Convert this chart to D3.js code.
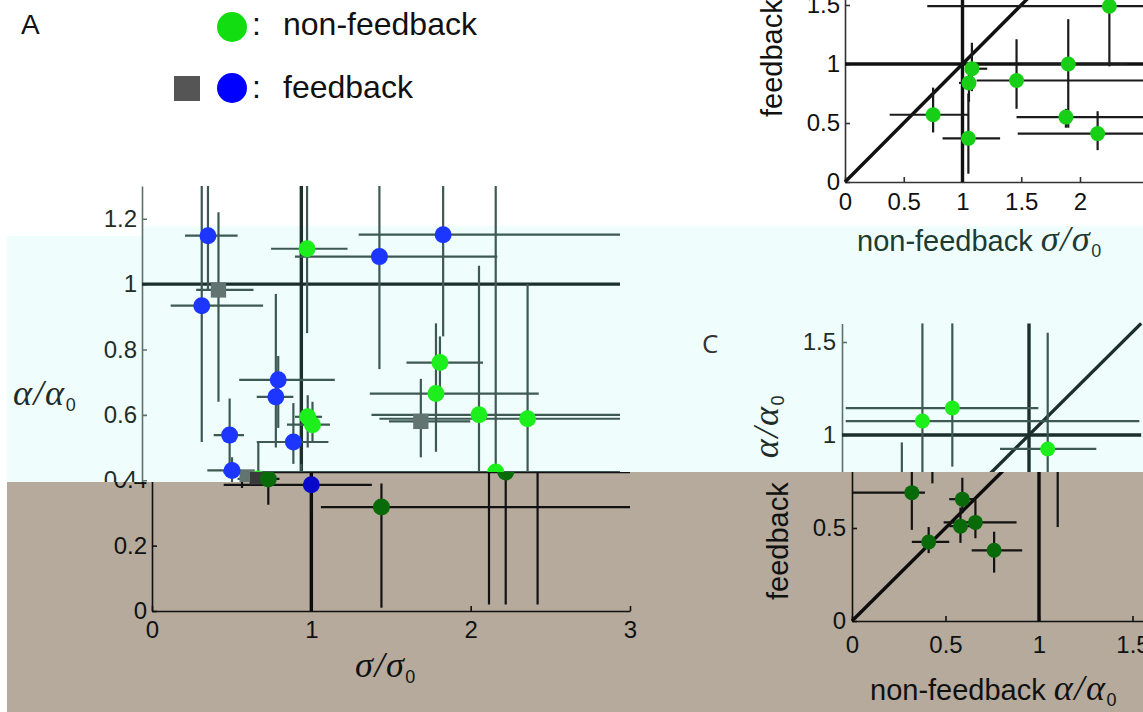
<!DOCTYPE html>
<html>
<head>
<meta charset="utf-8">
<script src="https://cdn.jsdelivr.net/npm/d3@7"></script>
<style>
  body { margin: 0; background: #fff; }
  svg { display: block; }
</style>
</head>
<body>
<div id="chart"></div>
<script>
// rows: [x, y, xLow, xHigh, yLow, yHigh]

// panel A : sigma/sigma0 (x) vs alpha/alpha0 (y)
const aFeedbackCircles = [
  [0.414, 1.148, 0.27, 0.60, 0.98, 1.30],
  [0.375, 0.934, 0.18, 0.76, 0.517, 1.30],
  [1.49, 1.084, 0.96, 2.23, 0.74, 1.30],
  [1.89, 1.151, 1.36, 3.00, 0.84, 1.30],
  [0.855, 0.707, 0.61, 1.21, 0.56, 0.78],
  [0.84, 0.655, 0.72, 0.95, 0.50, 0.97],
  [0.55, 0.538, 0.45, 0.64, 0.44, 0.65],
  [0.95, 0.517, 0.72, 1.17, 0.45, 0.636],
  [0.565, 0.43, 0.41, 0.62, 0.376, 0.47],
  [1.00, 0.386, 0.45, 1.38, 0.30, 0.45]
];
const aFeedbackSquares = [
  [0.48, 0.982, 0.34, 0.70, 0.64, 1.22],
  [1.75, 0.58, 1.55, 2.06, 0.47, 0.71],
  [0.66, 0.41, 0.62, 0.70, 0.40, 0.42]
];
const aNonFeedback = [
  [1.036, 1.108, 0.81, 1.29, 0.85, 1.30],
  [2.115, 0.600, 1.44, 3.00, 0.02, 1.056],
  [2.42, 0.588, 1.49, 3.00, 0.02, 1.00],
  [1.87, 0.760, 1.66, 2.14, 0.667, 0.84],
  [1.845, 0.665, 1.43, 2.49, 0.487, 0.88],
  [2.22, 0.425, 0.51, 3.00, 0.02, 1.30],
  [1.04, 0.594, 0.96, 1.13, 0.50, 0.66],
  [1.07, 0.570, 0.91, 1.18, 0.52, 0.64],
  [0.73, 0.404, 0.60, 0.80, 0.325, 0.517],
  [1.44, 0.318, 1.06, 3.00, 0.01, 0.39]
];
const aXTicks = [0, 1, 2, 3];
const aYTicks = [0, 0.2, 0.4, 0.6, 0.8, 1, 1.2];
const aRefs = [[1, 0, 1, 1.3], [0, 1, 3, 1]];

// panel B : non-feedback vs feedback sigma/sigma0
const bPoints = [
  [0.75, 0.57, 0.38, 1.05, 0.42, 0.80],
  [1.08, 0.96, 1.04, 1.21, 0.77, 1.18],
  [1.055, 0.84, 0.97, 1.10, 0.68, 0.95],
  [1.46, 0.86, 1.12, 2.60, 0.62, 1.21],
  [1.05, 0.37, 0.83, 1.32, 0.07, 0.75],
  [1.90, 1.00, 1.50, 2.40, 0.46, 1.38],
  [1.88, 0.55, 1.46, 2.60, 0.46, 0.62],
  [2.15, 0.41, 1.47, 2.60, 0.27, 0.60],
  [2.25, 1.49, 0.70, 2.60, 0.98, 1.60]
];
const bXTicks = [0, 0.5, 1, 1.5, 2];
const bYTicks = [0, 0.5, 1, 1.5];
const bRefs = [[1, 0, 1, 1.6], [0, 1, 2.6, 1], [0, 0, 1.6, 1.6]];

// panel C : non-feedback vs feedback alpha/alpha0
const cPoints = [
  [0.43, 1.075, 0.02, 1.59, 0.74, 1.60],
  [0.59, 1.145, 0.02, 1.05, 0.83, 1.60],
  [1.10, 0.925, 0.845, 1.36, 0.505, 1.55],
  [0.32, 0.69, 0.00, 0.39, 0.49, 0.96],
  [0.59, 0.655, 0.52, 0.66, 0.58, 0.77],
  [0.58, 0.51, 0.52, 0.64, 0.42, 0.61],
  [0.66, 0.53, 0.49, 0.88, 0.445, 0.65],
  [0.41, 0.425, 0.32, 0.52, 0.365, 0.505],
  [0.76, 0.38, 0.64, 0.91, 0.26, 0.48]
];
const cXTicks = [0, 0.5, 1, 1.5];
const cYTicks = [0, 0.5, 1, 1.5];
const cRefs = [[1, 0, 1, 1.6], [0, 1, 1.6, 1], [0, 0, 1.6, 1.6]];

const SANS = '"Liberation Sans", Arial, sans-serif';
const SERIF = '"Liberation Serif", "DejaVu Serif", serif';
const fmt = d3.format('~g');

const CYAN = {line: '#3d5952', ref: '#1c2f2a', axis: '#5b726c', text: '#1f2d29',
              fb: '#1c35ff', nf: '#1def1d', sq: '#61746f'};
const BROWN = {line: '#121212', ref: '#0c0c0c', axis: '#111', text: '#111',
               fb: '#0808cc', nf: '#086a08', sq: '#3a3a3a'};
const WHITE = {line: '#1b1b1b', ref: '#111', axis: '#333', text: '#111',
               fb: '#1c35ff', nf: '#17cf17', sq: '#555'};

class ErrorPanel {
  constructor (options) {
    Object.assign(this, options);
  }

  draw (parent, style, dx, clipId) {
    const layer = parent.append('g')
      .attr('clip-path', 'url(#' + clipId + ')')
      .append('g')
      .attr('transform', 'translate(' + dx + ',0)');

    this.addAxes(layer, style);
    this.drawRefs(layer, style);
    this.drawBars(layer, style);
    this.drawMarkers(layer, style);
    this.addLabels(layer, style);
  }

  addAxes (g, style) {
    const x = this.x, y = this.y;
    const xAxis = g.append('g')
      .attr('transform', 'translate(0,' + y(0) + ')')
      .call(d3.axisBottom(x).tickValues(this.xTicks).tickFormat(fmt)
        .tickSize(-5).tickSizeOuter(0).tickPadding(this.xPad));
    const yAxis = g.append('g')
      .attr('transform', 'translate(' + x(0) + ',0)')
      .call(d3.axisLeft(y).tickValues(this.yTicks).tickFormat(fmt)
        .tickSize(-5).tickSizeOuter(0).tickPadding(this.yPad));

    [xAxis, yAxis].forEach((a) => {
      a.attr('font-family', SANS).attr('font-size', 24);
      a.selectAll('.domain, .tick line').attr('stroke', style.axis).attr('stroke-width', 1.6);
      a.selectAll('text').attr('fill', style.text);
    });
  }

  drawRefs (g, style) {
    const x = this.x, y = this.y;
    g.selectAll('line.ref')
      .data(this.refs)
      .enter().append('line')
      .attr('class', 'ref')
      .attr('x1', (d) => x(d[0])).attr('y1', (d) => y(d[1]))
      .attr('x2', (d) => x(d[2])).attr('y2', (d) => y(d[3]))
      .attr('stroke', style.ref)
      .attr('stroke-width', 3.4);
  }

  drawBars (g, style) {
    const x = this.x, y = this.y;
    const rows = this.series.reduce((all, s) => all.concat(s.rows), []);
    const bars = g.append('g').attr('stroke', style.line).attr('stroke-width', 2.2);

    bars.selectAll('line.h')
      .data(rows)
      .enter().append('line')
      .attr('x1', (d) => x(d[2])).attr('x2', (d) => x(d[3]))
      .attr('y1', (d) => y(d[1])).attr('y2', (d) => y(d[1]));

    bars.selectAll('line.v')
      .data(rows)
      .enter().append('line')
      .attr('x1', (d) => x(d[0])).attr('x2', (d) => x(d[0]))
      .attr('y1', (d) => y(d[4])).attr('y2', (d) => y(d[5]));
  }

  drawMarkers (g, style) {
    const x = this.x, y = this.y, r = this.r;
    this.series.forEach((s) => {
      if (s.shape === 'square') {
        g.selectAll(null)
          .data(s.rows)
          .enter().append('rect')
          .attr('x', (d) => x(d[0]) - r * 0.9)
          .attr('y', (d) => y(d[1]) - r * 0.9)
          .attr('width', r * 1.8).attr('height', r * 1.8)
          .attr('fill', style[s.kind]);
      } else {
        g.selectAll(null)
          .data(s.rows)
          .enter().append('circle')
          .attr('cx', (d) => x(d[0]))
          .attr('cy', (d) => y(d[1]))
          .attr('r', r)
          .attr('fill', style[s.kind]);
      }
    });
  }

  addLabels (g, style) {
    [this.xLabel, this.yLabel].forEach((lab) => {
      if (!lab) return;
      const t = g.append('text')
        .attr('font-family', SANS)
        .attr('font-size', lab.size)
        .attr('fill', lab.color || style.text)
        .attr('transform', 'translate(' + lab.x + ',' + lab.y + ')' + (lab.rotate ? ' rotate(-90)' : ''));
      richText(t, lab.parts, lab.size);
    });
  }
}

function richText (t, parts, size) {
  parts.forEach(([s, kind]) => {
    const ts = t.append('tspan').text(s);
    if (kind === 'it') {
      ts.attr('font-family', SERIF).attr('font-style', 'italic')
        .attr('font-size', size * 1.25).attr('letter-spacing', 1.5);
    } else if (kind === 'sub') {
      ts.attr('font-size', size * 0.62).attr('dy', size * 0.2);
    }
  });
}

const sigmaParts = [['σ', 'it'], ['/', 'it'], ['σ', 'it'], ['0', 'sub']];
const alphaParts = [['α', 'it'], ['/', 'it'], ['α', 'it'], ['0', 'sub']];

const panelA = new ErrorPanel({
  x: d3.scaleLinear().domain([0, 3]).range([152, 630]),
  y: d3.scaleLinear().domain([0, 1.3]).range([611, 186]),
  xTicks: aXTicks, yTicks: aYTicks, xPad: 10, yPad: 5, r: 8.5,
  refs: aRefs,
  series: [
    {rows: aFeedbackSquares, kind: 'sq', shape: 'square'},
    {rows: aFeedbackCircles, kind: 'fb'},
    {rows: aNonFeedback, kind: 'nf'}
  ],
  xLabel: {x: 355, y: 677, size: 29, parts: sigmaParts},
  yLabel: {x: 23, y: 405, size: 29, parts: alphaParts}
});

const panelB = new ErrorPanel({
  x: d3.scaleLinear().domain([0, 2.55]).range([845, 845 + 2.55 * 117.5]),
  y: d3.scaleLinear().domain([0, 1.55]).range([182, 182 - 1.55 * 118]),
  xTicks: bXTicks, yTicks: bYTicks, xPad: 11, yPad: 5, r: 7.5,
  refs: bRefs,
  series: [{rows: bPoints, kind: 'nf'}],
  xLabel: {x: 857, y: 251, size: 29, color: '#1d3a33',
           parts: [['non-feedback\u00a0', 'n']].concat(sigmaParts)},
  yLabel: {x: 782, y: 117, size: 29, rotate: true,
           parts: [['feedback\u00a0', 'n']].concat(sigmaParts)}
});

const panelC = new ErrorPanel({
  x: d3.scaleLinear().domain([0, 1.6]).range([852, 852 + 1.6 * 187]),
  y: d3.scaleLinear().domain([0, 1.6]).range([621, 621 - 1.6 * 186]),
  xTicks: cXTicks, yTicks: cYTicks, xPad: 15, yPad: 6, r: 7.5,
  refs: cRefs,
  series: [{rows: cPoints, kind: 'nf'}],
  xLabel: {x: 870, y: 700, size: 29, parts: [['non-feedback\u00a0', 'n']].concat(alphaParts)},
  yLabel: {x: 788, y: 600, size: 29, rotate: true,
           parts: [['feedback\u00a0\u00a0\u00a0', 'n']].concat(alphaParts)}
});

const svg = d3.select('#chart').append('svg')
  .attr('width', 1143)
  .attr('height', 712);

const defs = svg.append('defs');
function addClip (id, d) {
  defs.append('clipPath').attr('id', id).append('path').attr('d', d);
}
addClip('clipACyan', 'M7,180H700V472H250V482H7Z');
addClip('clipABrown', 'M7,482H250V472H700V712H7Z');
addClip('clipB', 'M700,0H1143V262H700Z');
addClip('clipCCyan', 'M700,262H1143V472H700Z');
addClip('clipCBrown', 'M700,472H1143V712H700Z');

// backgrounds of the two bands
svg.append('path').attr('d', 'M7,236H142V226H1143V472H250V482H7Z').attr('fill', '#effefd');
svg.append('path').attr('d', 'M7,482H250V472H1143V712H7Z').attr('fill', '#b5aa9b');

panelA.draw(svg, CYAN, -10, 'clipACyan');
panelA.draw(svg, BROWN, 0, 'clipABrown');
panelB.draw(svg, WHITE, 0, 'clipB');
panelC.draw(svg, CYAN, -10, 'clipCCyan');
panelC.draw(svg, BROWN, 0, 'clipCBrown');

// panel letters
svg.append('text').attr('x', 21).attr('y', 34)
  .attr('font-family', SANS).attr('font-size', 28).attr('fill', '#111').text('A');
svg.append('text').attr('x', 702).attr('y', 353)
  .attr('font-family', '"Open Sans", sans-serif').attr('font-size', 26).attr('fill', '#333').text('C');

// legend
const legend = svg.append('g').attr('font-family', SANS).attr('font-size', 32).attr('fill', '#111');
legend.append('circle').attr('cx', 232).attr('cy', 27).attr('r', 15).attr('fill', '#11dd11');
legend.append('text').attr('x', 252).attr('y', 35).text(':');
legend.append('text').attr('x', 283).attr('y', 35).text('non-feedback');
legend.append('rect').attr('x', 174).attr('y', 76).attr('width', 26).attr('height', 25).attr('fill', '#555');
legend.append('circle').attr('cx', 232).attr('cy', 88).attr('r', 15).attr('fill', '#0000ff');
legend.append('text').attr('x', 252).attr('y', 98).text(':');
legend.append('text').attr('x', 283).attr('y', 98).text('feedback');
</script>
</body>
</html>
